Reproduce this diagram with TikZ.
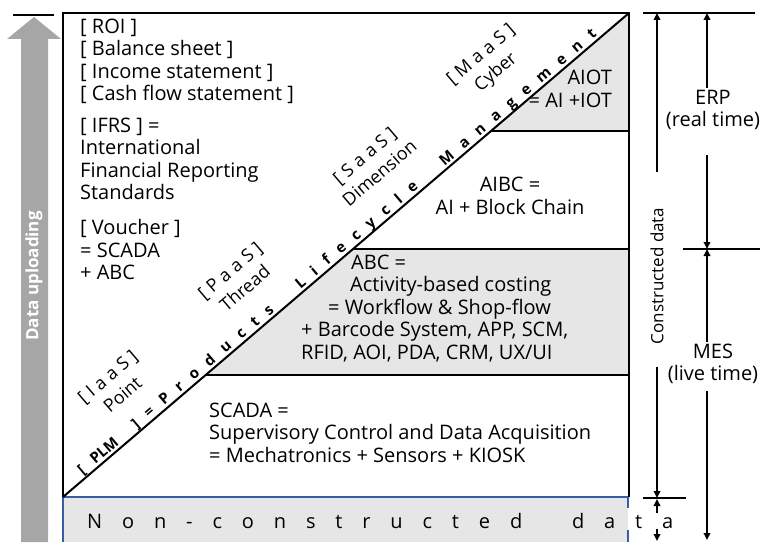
\documentclass[tikz,border=0pt]{standalone}
\usepackage{fontspec}
\setmainfont{Open Sans}
\usepackage{xcolor}
\usetikzlibrary{calc,arrows.meta,positioning}

\definecolor{zonegray}{RGB}{231,230,230}
\definecolor{upgray}{RGB}{166,166,166}
\definecolor{rawblue}{RGB}{56,93,165}
\newcommand{\tagsp}{\hspace{5pt}}

\begin{document}
\begin{tikzpicture}[
    x=1pt, y=1pt,
    >={Triangle[length=7pt,width=6.5pt]},
    every node/.style={font=\fontsize{20}{22.5}\selectfont, inner sep=2pt},
    frame/.style={line width=2.5pt},
    level/.style={line width=2pt},
    dim/.style={line width=1.8pt},
    tag/.style={font=\fontsize{18}{23}\selectfont, align=center, rotate=40.54}
]

\useasboundingbox (0,0) rectangle (762,542);

% Data uploading arrow
\fill[upgray] (21,0) -- (21,503) -- (7,503) -- (34,525)
    -- (61,503) -- (48,503) -- (48,0) -- cycle;
\draw[line width=2pt] (13,527) -- (54,527);
\node[rotate=90, text=white, font=\bfseries\fontsize{17}{20}\selectfont]
    (upload) at (34,266) {Data uploading};

% Grey zones
\fill[zonegray] (491,411) -- (629,529) -- (629,411) -- cycle;
\fill[zonegray] (353,293) -- (629,293) -- (629,167) -- (206,167) -- cycle;

% Non-constructed data strip
\fill[zonegray] (63,0) rectangle (628,45);
\draw[rawblue,line width=1.5pt] (63,0) -- (63,45) -- (628,45) -- (628,34);
\draw[rawblue,line width=1.5pt] (628,12) -- (628,0);
\node[anchor=west, inner sep=0pt] (raw) at (87,21)
    {\hbox to 586pt{N\hfill o\hfill n\hfill -\hfill c\hfill o\hfill n\hfill
    s\hfill t\hfill r\hfill u\hfill c\hfill t\hfill e\hfill d\hfill
    \hspace{10pt}\hfill d\hfill a\hfill t\hfill a}};

% Frame and diagonal
\coordinate (A) at (63,45);
\coordinate (B) at (629,529);
\draw[frame] (A) -- (63,529) -- (B) -- (629,45);
\draw[level] (A) -- (B);

% Level lines
\draw[level] (491,411) -- (629,411);
\draw[level] (353,293) -- (629,293);
\draw[level] (206,167) -- (629,167);

% Left column
\node[anchor=west, align=left] (reports) at (78,480.5)
    {[ ROI ]\\{[} Balance sheet ]\\{[} Income statement ]\\{[} Cash flow statement ]};
\node[anchor=west, align=left] (ifrs) at (78,383)
    {[ IFRS ] =\\International\\Financial Reporting\\Standards};
\node[anchor=west, align=left] (voucher) at (78,292.5)
    {[ Voucher ]\\= SCADA\\+ ABC};

% Zones right of the diagonal
\node[anchor=east, align=right] (aiot) at (614,453) {AIOT\\= AI +IOT};
\node[align=center] (aibc) at (510,346) {AIBC =\\AI + Block Chain};
\node[anchor=west, align=left] (abc) at (299,233.5)
    {\hspace*{50pt}ABC =\\
    \hspace*{49pt}Activity-based costing\\
    \hspace*{27pt}= Workflow \& Shop-flow\\
    + Barcode System, APP, SCM,\\
    RFID, AOI, PDA, CRM, UX/UI};
\node[anchor=west, align=left] (scada) at (207,109.5)
    {SCADA =\\Supervisory Control and Data Acquisition\\= Mechatronics + Sensors + KIOSK};

% Along the diagonal
\begin{scope}[shift={(A)}, rotate=40.54]
    \node[tag] (iaas) at (112,51) {{[}\tagsp I\tagsp a\tagsp a\tagsp S\tagsp ]\\Point};
    \node[tag] (paas) at (274,52) {{[}\tagsp P\tagsp a\tagsp a\tagsp S\tagsp ]\\Thread};
    \node[tag] (saas) at (451,52) {{[}\tagsp S\tagsp a\tagsp a\tagsp S\tagsp ]\\Dimension};
    \node[tag] (maas) at (605,52) {{[}\tagsp M\tagsp a\tagsp a\tagsp S\tagsp ]\\Cyber};
    \node[anchor=base west, rotate=40.54, inner sep=0pt,
        font=\bfseries\fontsize{15}{18}\selectfont] (plm) at (29,3.5)
        {\hbox to 677pt{{[}\hfill PLM\hfill\hfill ]\hfill =\hfill
        P\hfill r\hfill o\hfill d\hfill u\hfill c\hfill t\hfill s\hfill\hfill\hfill
        L\hfill i\hfill f\hfill e\hfill c\hfill y\hfill c\hfill l\hfill e\hfill\hfill\hfill
        M\hfill a\hfill n\hfill a\hfill g\hfill e\hfill m\hfill e\hfill n\hfill t}};
\end{scope}

% Right-hand scales
\coordinate (topL) at (643,529);
\coordinate (topR) at (755,529);
\coordinate (midL) at (683,293);
\coordinate (midR) at (760,293);
\coordinate (lowL) at (643,44);
\coordinate (lowR) at (686,44);
\coordinate (cx) at (657,0);
\coordinate (ex) at (707,0);
\draw[dim] (topL) -- (topR);
\draw[dim] (midL) -- (midR);
\draw[dim] (lowL) -- (lowR);

\node[rotate=90, font=\fontsize{17}{20}\selectfont] (constr) at (657,266)
    {Constructed data};
\node[align=center] (erp) at (713,432) {ERP\\(real time)};
\node[align=center] (mes) at (713,178) {MES\\(live time)};

\draw[dim,->,shorten <=33pt] (constr.east) -- (constr.east |- topL);
\draw[dim,->,shorten <=20pt] (constr.west) -- (constr.west |- lowL);
\draw[dim,->] (cx |- raw.north) -- ([yshift=-1pt]cx |- lowL);
\draw[dim,->] (cx |- raw.south) -- ([yshift=1pt]cx);

\draw[dim,->] (erp.north -| ex) -- (ex |- topL);
\draw[dim,->,shorten <=23pt] (erp.south -| ex) -- (ex |- midL);
\draw[dim,->] (mes.north -| ex) -- (ex |- midL);
\draw[dim,->,shorten <=5pt] (mes.south -| ex) -- ([yshift=2pt]ex);

\end{tikzpicture}
\end{document}
